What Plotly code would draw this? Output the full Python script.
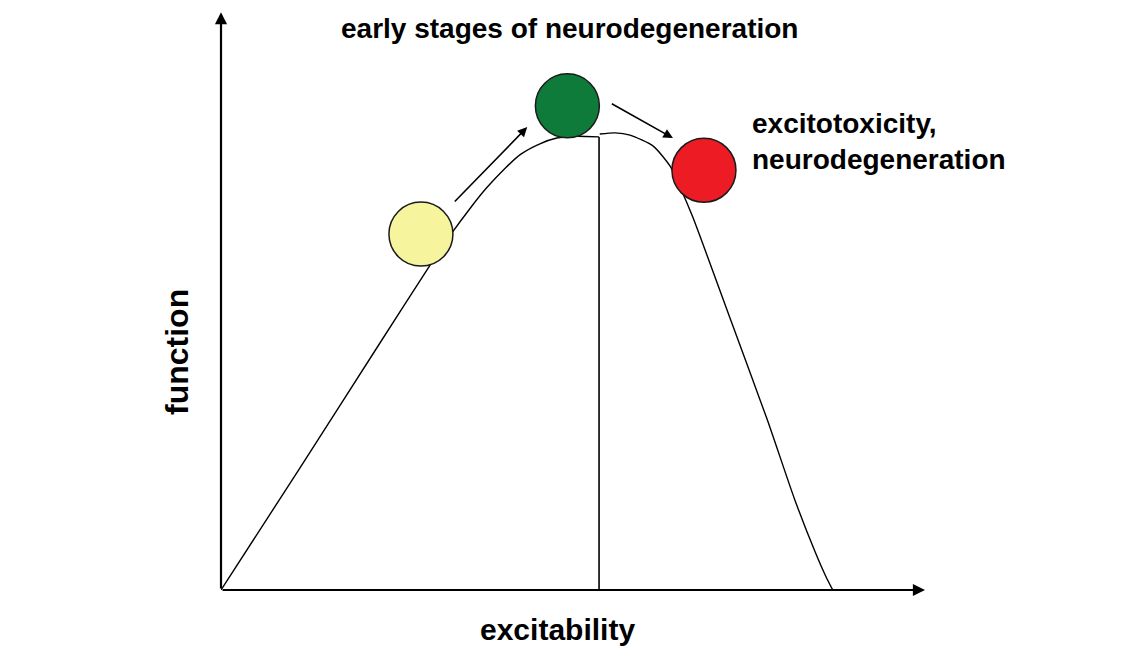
import plotly.graph_objects as go

# ---- data (excitability units 0..10, function units 0..10) ----
rise_x = [0.0, 1.12, 2.26, 2.97, 3.28, 3.54, 3.77, 4.04, 4.26, 4.53, 4.77, 5.03, 5.37]
rise_y = [0.0, 2.12, 4.30, 5.65, 6.21, 6.64, 6.99, 7.34, 7.58, 7.76, 7.86, 7.89, 7.88]

fall_x = [5.38, 5.60, 5.81, 6.14, 6.38, 6.52, 6.70, 7.23, 7.76, 8.15, 8.44, 8.59, 8.69]
fall_y = [7.93, 7.95, 7.91, 7.72, 7.37, 7.01, 6.49, 4.73, 2.96, 1.57, 0.66, 0.24, 0.0]

peak_x = [5.37, 5.37]
peak_y = [0.0, 7.88]

ball_x = [2.84, 4.92, 6.86]
ball_y = [6.19, 8.42, 7.30]
ball_colors = ["#f6f49d", "#0f7b3b", "#ed1c24"]

arrow_tail_x = [3.30, 5.53]
arrow_tail_y = [6.73, 8.47]
arrow_head_x = [4.35, 6.42]
arrow_head_y = [8.05, 7.86]

title_top = "early stages of neurodegeneration"
label_right = "excitotoxicity,<br>neurodegeneration"
x_label = "excitability"
y_label = "function"

FONT = "Liberation Sans, Arial, sans-serif"

fig = go.Figure()
fig.add_trace(go.Scatter(x=rise_x, y=rise_y, mode="lines",
                         line=dict(color="black", width=1.4, shape="spline", smoothing=0.6),
                         hoverinfo="skip"))
fig.add_trace(go.Scatter(x=fall_x, y=fall_y, mode="lines",
                         line=dict(color="black", width=1.4, shape="spline", smoothing=0.6),
                         hoverinfo="skip"))
fig.add_trace(go.Scatter(x=peak_x, y=peak_y, mode="lines",
                         line=dict(color="black", width=1.6), hoverinfo="skip"))
fig.add_trace(go.Scatter(x=ball_x, y=ball_y, mode="markers",
                         marker=dict(size=64, color=ball_colors,
                                     line=dict(color="#1a1a1a", width=1.5)),
                         hoverinfo="skip"))

annotations = []
# axes arrows
annotations.append(dict(x=10.0, y=0, ax=0, ay=0, xref="x", yref="y", axref="x", ayref="y",
                        showarrow=True, arrowhead=2, arrowsize=1.1, arrowwidth=2.2,
                        arrowcolor="black", text=""))
annotations.append(dict(x=0, y=10.05, ax=0, ay=0, xref="x", yref="y", axref="x", ayref="y",
                        showarrow=True, arrowhead=2, arrowsize=1.1, arrowwidth=2.2,
                        arrowcolor="black", text=""))
for tx, ty, hx, hy in zip(arrow_tail_x, arrow_tail_y, arrow_head_x, arrow_head_y):
    annotations.append(dict(x=hx, y=hy, ax=tx, ay=ty, xref="x", yref="y", axref="x", ayref="y",
                            showarrow=True, arrowhead=2, arrowsize=1.2, arrowwidth=1.6,
                            arrowcolor="black", text=""))

# text positions given in screenshot pixels (page body has an 8px margin)
OFF = 8
annotations.append(dict(x=569 - OFF, y=28 - OFF, xref="paper", yref="paper", text=title_top,
                        showarrow=False, xanchor="center", yanchor="middle",
                        font=dict(family=FONT, size=28, color="black", weight="bold")))
annotations.append(dict(x=750 - OFF, y=141 - OFF, xref="paper", yref="paper", text=label_right,
                        showarrow=False, xanchor="left", yanchor="middle", align="left",
                        font=dict(family=FONT, size=28, color="black", weight="bold")))
annotations.append(dict(x=557 - OFF, y=629 - OFF, xref="paper", yref="paper", text=x_label,
                        showarrow=False, xanchor="center", yanchor="middle",
                        font=dict(family=FONT, size=30, color="black", weight="bold")))
annotations.append(dict(x=177 - OFF, y=352 - OFF, xref="paper", yref="paper", text=y_label,
                        showarrow=False, textangle=-90, xanchor="center", yanchor="middle",
                        font=dict(family=FONT, size=32, color="black", weight="bold")))

W, H = 1145 - 2 * OFF, 657 - 2 * OFF
ML, MT = 221 - OFF, 15 - OFF
pw, ph = 704, 575
MR, MB = W - ML - pw, H - MT - ph
for a in annotations:
    if a.get("xref") == "paper":
        a["x"] = (a["x"] - ML) / pw
        a["y"] = (MT + ph - a["y"]) / ph

fig.update_layout(
    width=W, height=H,
    margin=dict(l=ML, r=MR, t=MT, b=MB),
    paper_bgcolor="white", plot_bgcolor="white",
    showlegend=False,
    xaxis=dict(range=[0, 10], visible=False, fixedrange=True),
    yaxis=dict(range=[0, 10], visible=False, fixedrange=True),
    annotations=annotations,
)
fig.write_html("out.html")
